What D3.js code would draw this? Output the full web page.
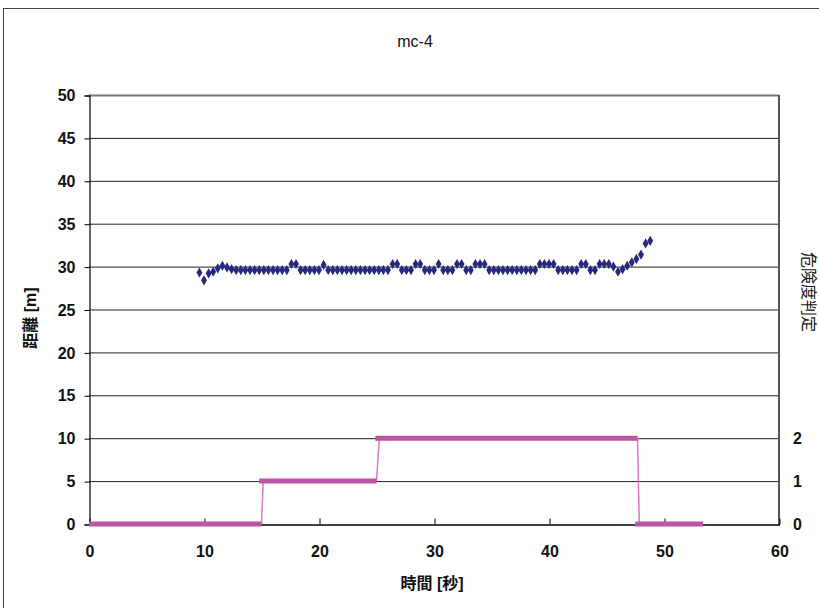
<!DOCTYPE html>
<html><head><meta charset="utf-8">
<script src="https://cdn.jsdelivr.net/npm/d3@7"></script>
<style>
html,body{margin:0;padding:0;background:#fff;}
svg{display:block;}
text{font-family:"Liberation Sans","Noto Sans CJK JP",sans-serif;}
</style></head>
<body>
<script>
// ---- data ----
const chartTitle = "mc-4";
const xTicks = [0, 10, 20, 30, 40, 50, 60];
const yTicks = [0, 5, 10, 15, 20, 25, 30, 35, 40, 45, 50];
const y2Ticks = [0, 1, 2];
const sampleTimes = [
  9.6, 10.0, 10.4, 10.8, 11.2, 11.6, 12.0, 12.4,
  12.8, 13.2, 13.6, 14.0, 14.4, 14.8, 15.2, 15.6, 16.0, 16.4, 16.8, 17.2,
  17.6, 18.0,
  18.4, 18.8, 19.2, 19.6, 20.0,
  20.4,
  20.8, 21.2, 21.6, 22.0, 22.4, 22.8, 23.2, 23.6, 24.0, 24.4, 24.8, 25.2, 25.6, 26.0,
  26.4, 26.8,
  27.2, 27.6, 28.0,
  28.4, 28.8,
  29.2, 29.6, 30.0,
  30.4,
  30.8, 31.2, 31.6,
  32.0, 32.4,
  32.8, 33.2,
  33.6, 34.0, 34.4,
  34.8, 35.2, 35.6, 36.0, 36.4, 36.8, 37.2, 37.6, 38.0, 38.4, 38.8,
  39.2, 39.6, 40.0, 40.4,
  40.8, 41.2, 41.6, 42.0, 42.4,
  42.8, 43.2,
  43.6, 44.0,
  44.4, 44.8, 45.2,
  45.6, 46.0, 46.4, 46.8, 47.2, 47.6, 48.0, 48.4, 48.8
];
const distances = [
  29.3, 28.4, 29.2, 29.4, 29.8, 30.1, 29.9, 29.7,
  29.6, 29.6, 29.6, 29.6, 29.6, 29.6, 29.6, 29.6, 29.6, 29.6, 29.6, 29.6,
  30.3, 30.3,
  29.6, 29.6, 29.6, 29.6, 29.6,
  30.2,
  29.6, 29.6, 29.6, 29.6, 29.6, 29.6, 29.6, 29.6, 29.6, 29.6, 29.6, 29.6, 29.6, 29.6,
  30.3, 30.3,
  29.6, 29.6, 29.6,
  30.3, 30.3,
  29.6, 29.6, 29.6,
  30.3,
  29.6, 29.6, 29.6,
  30.3, 30.3,
  29.6, 29.6,
  30.3, 30.3, 30.3,
  29.6, 29.6, 29.6, 29.6, 29.6, 29.6, 29.6, 29.6, 29.6, 29.6, 29.6,
  30.3, 30.3, 30.3, 30.3,
  29.6, 29.6, 29.6, 29.6, 29.6,
  30.3, 30.3,
  29.6, 29.6,
  30.3, 30.3, 30.3,
  30.0, 29.4, 29.7, 30.1, 30.5, 30.9, 31.4, 32.7, 33.0
];
// danger level (危険度判定) steps
const levelStart = [0, 14.8, 24.9, 47.5];
const levelEnd   = [15.0, 25.0, 47.7, 53.4];
const levelValue = [0, 1, 2, 0];

// ---- layout ----
const W = 819, H = 608;
const mLeft = 89, mRight = 779, mTop = 95, mBottom = 524;

const svg = d3.select("body").append("svg").attr("width", W).attr("height", H);

// outer frame
svg.append("rect").attr("x", 3.5).attr("y", 8.5).attr("width", 840).attr("height", 640)
  .attr("fill", "none").attr("stroke", "#444").attr("stroke-width", 1);

const x = d3.scaleLinear().domain([0, 60]).range([mLeft, mRight]);
const y = d3.scaleLinear().domain([0, 50]).range([mBottom, mTop]);
const y2 = d3.scaleLinear().domain([0, 10]).range([mBottom, mTop]);

const numFont = '"Liberation Sans Narrow","Liberation Sans",sans-serif';

// title
svg.append("text").attr("x", 415).attr("y", 47).attr("text-anchor", "middle")
  .attr("font-size", 16).attr("fill", "#111").attr("font-family", numFont).text(chartTitle);

// gridlines
svg.append("g").selectAll("line").data(yTicks.filter(d => d > 0 && d < 50)).join("line")
  .attr("x1", mLeft).attr("x2", mRight)
  .attr("y1", d => y(d) + 0.5).attr("y2", d => y(d) + 0.5)
  .attr("stroke", "#222").attr("stroke-width", 1);

// plot border (top and right)
svg.append("line").attr("x1", mLeft).attr("x2", mRight).attr("y1", mTop + 0.5).attr("y2", mTop + 0.5)
  .attr("stroke", "#777").attr("stroke-width", 2);
svg.append("line").attr("x1", mRight).attr("x2", mRight).attr("y1", mTop).attr("y2", mBottom + 1)
  .attr("stroke", "#555").attr("stroke-width", 2);

// left axis
const yAxis = d3.axisLeft(y).tickValues(yTicks).tickSize(5).tickPadding(9);
const gy = svg.append("g").attr("transform", `translate(${mLeft + 0.5},0.5)`).call(yAxis);
gy.select(".domain").attr("stroke", "#000").attr("stroke-width", 1.2);
gy.selectAll(".tick line").attr("stroke", "#000");
gy.selectAll(".tick text").attr("font-size", 16).attr("font-weight", "bold").attr("fill", "#111")
  .attr("font-family", numFont);

// bottom axis (ticks inward)
const xAxis = d3.axisBottom(x).tickValues(xTicks).tickSizeInner(-6).tickSizeOuter(0).tickPadding(21);
const gx = svg.append("g").attr("transform", `translate(0.5,${mBottom + 0.5})`).call(xAxis);
gx.select(".domain").attr("stroke", "#000").attr("stroke-width", 1.5);
gx.selectAll(".tick line").attr("stroke", "#000");
gx.selectAll(".tick text").attr("font-size", 16).attr("font-weight", "bold").attr("fill", "#111")
  .attr("font-family", numFont);

// right axis
const y2Axis = d3.axisRight(y2).tickValues(y2Ticks).tickSize(0).tickPadding(14);
const gy2 = svg.append("g").attr("transform", `translate(${mRight},0.5)`).call(y2Axis);
gy2.select(".domain").remove();
gy2.selectAll(".tick text").attr("font-size", 16).attr("font-weight", "bold").attr("fill", "#111")
  .attr("font-family", numFont);

// axis titles
svg.append("text").attr("transform", "translate(36,318) rotate(-90)")
  .attr("text-anchor", "middle").attr("font-size", 16).attr("font-weight", "bold").attr("fill", "#111")
  .attr("font-family", '"Noto Sans CJK JP",sans-serif').text("距離 [m]");
svg.append("text").attr("transform", "translate(803,292) rotate(90)")
  .attr("text-anchor", "middle").attr("font-size", 16).attr("fill", "#111")
  .attr("font-family", '"Noto Sans CJK JP",sans-serif').text("危険度判定");
svg.append("text").attr("x", 432).attr("y", 589).attr("text-anchor", "middle")
  .attr("font-size", 16).attr("font-weight", "bold").attr("fill", "#111")
  .attr("font-family", '"Noto Sans CJK JP",sans-serif').text("時間 [秒]");

// danger level step line: thin transitions + thick flat segments
const thin = [];
for (let i = 0; i < levelValue.length - 1; i++) {
  thin.push([[levelEnd[i], levelValue[i]], [levelStart[i + 1] + 0.35, levelValue[i + 1]]]);
}
svg.append("g").selectAll("line").data(thin).join("line")
  .attr("x1", d => x(d[0][0])).attr("y1", d => y2(d[0][1]))
  .attr("x2", d => x(d[1][0])).attr("y2", d => y2(d[1][1]))
  .attr("stroke", "#D67CC4").attr("stroke-width", 1.5);
svg.append("g").selectAll("line").data(levelValue).join("line")
  .attr("x1", (d, i) => x(levelStart[i])).attr("x2", (d, i) => x(levelEnd[i]))
  .attr("y1", d => y2(d)).attr("y2", d => y2(d))
  .attr("stroke", "#BE55A4").attr("stroke-width", 5);

// distance scatter (diamonds)
svg.append("g").selectAll("path").data(distances).join("path")
  .attr("transform", (d, i) => `translate(${x(sampleTimes[i])},${y(d)})`)
  .attr("d", d3.symbol().type(d3.symbolDiamond).size(30))
  .attr("fill", "#25287E");
</script>
</body></html>
